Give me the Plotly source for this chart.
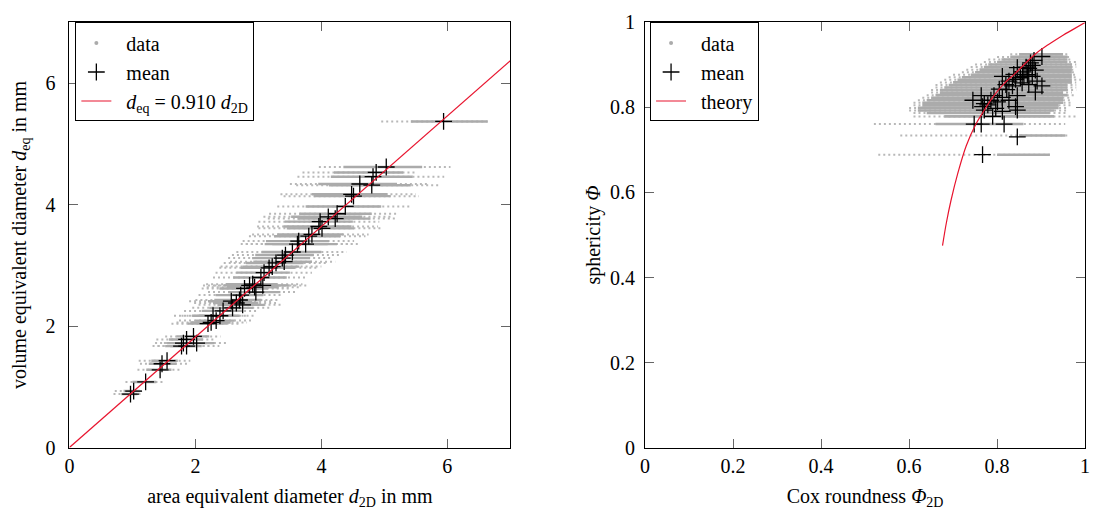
import plotly.graph_objects as go

# ---------------- left panel: d_eq vs d_2D ----------------
L_mean_x = [0.97, 1.02, 1.21, 1.44, 1.47, 1.55, 1.78, 1.86, 1.81, 2.02, 1.86, 1.97,
            2.20, 2.25, 2.33, 2.39, 2.28, 2.44, 2.59, 2.57, 2.75, 2.65, 2.70, 2.72,
            2.96, 2.78, 2.94, 2.86, 3.07, 2.91, 3.04, 3.09, 3.17, 3.22, 3.28, 3.41,
            3.38, 3.43, 3.54, 3.62, 3.75, 3.64, 3.80, 3.85, 4.01, 3.96, 3.98, 4.22,
            4.11, 4.25, 4.38, 4.51, 4.48, 4.80, 4.61, 4.82, 4.87, 5.03, 5.94]
L_mean_y = [0.88, 0.93, 1.08, 1.28, 1.38, 1.43, 1.67, 1.67, 1.72, 1.72, 1.78, 1.83,
            2.04, 2.06, 2.09, 2.17, 2.17, 2.25, 2.30, 2.41, 2.35, 2.38, 2.43, 2.51,
            2.56, 2.62, 2.64, 2.67, 2.67, 2.69, 2.80, 2.88, 2.96, 2.98, 3.04, 3.06,
            3.12, 3.17, 3.22, 3.35, 3.35, 3.40, 3.48, 3.51, 3.61, 3.64, 3.72, 3.77,
            3.80, 3.85, 3.97, 4.14, 4.17, 4.32, 4.34, 4.46, 4.53, 4.62, 5.37]
L_lo = [0.70, 0.72, 0.89, 1.08, 1.12, 1.10, 1.32, 1.40, 1.36, 1.50, 1.38, 1.52,
        1.62, 1.70, 1.74, 1.78, 1.66, 1.82, 1.95, 1.90, 2.05, 1.98, 2.00, 2.05,
        2.20, 2.10, 2.18, 2.12, 2.30, 2.17, 2.28, 2.32, 2.38, 2.40, 2.45, 2.55,
        2.52, 2.58, 2.65, 2.72, 2.80, 2.75, 2.85, 2.90, 3.00, 2.98, 3.00, 3.15,
        3.08, 3.17, 3.30, 3.40, 3.35, 3.60, 3.50, 3.62, 3.70, 3.96, 4.95]
L_hi = [1.16, 1.18, 1.52, 1.78, 1.90, 1.92, 2.20, 2.38, 2.28, 2.52, 2.30, 2.40,
        2.70, 2.82, 2.90, 2.96, 2.80, 3.00, 3.20, 3.22, 3.40, 3.28, 3.35, 3.38,
        3.62, 3.50, 3.66, 3.58, 3.80, 3.70, 3.75, 3.85, 3.92, 4.00, 4.10, 4.22,
        4.15, 4.28, 4.40, 4.48, 4.62, 4.52, 4.70, 4.75, 4.95, 4.90, 4.92, 5.20,
        5.10, 5.19, 5.40, 5.55, 5.50, 5.90, 5.71, 5.95, 5.50, 6.05, 6.64]
L_core_lo = [0.82, 0.86, 1.00, 1.22, 1.26, 1.30, 1.52, 1.60, 1.55, 1.72, 1.58, 1.70,
             1.88, 1.92, 2.00, 2.05, 1.95, 2.10, 2.22, 2.20, 2.35, 2.28, 2.30, 2.32,
             2.52, 2.38, 2.50, 2.45, 2.62, 2.48, 2.60, 2.65, 2.72, 2.75, 2.80, 2.92,
             2.90, 2.95, 3.05, 3.10, 3.22, 3.12, 3.25, 3.30, 3.45, 3.40, 3.42, 3.62,
             3.52, 3.65, 3.75, 3.88, 3.85, 4.12, 3.95, 4.15, 4.20, 4.35, 5.42]
L_core_hi = [1.08, 1.12, 1.38, 1.62, 1.70, 1.72, 2.02, 2.10, 2.05, 2.30, 2.12, 2.22,
             2.50, 2.56, 2.62, 2.70, 2.60, 2.76, 2.92, 2.90, 3.10, 3.00, 3.05, 3.08,
             3.35, 3.15, 3.32, 3.25, 3.48, 3.30, 3.45, 3.50, 3.58, 3.65, 3.72, 3.85,
             3.82, 3.88, 4.00, 4.10, 4.25, 4.12, 4.30, 4.35, 4.52, 4.48, 4.50, 4.78,
             4.65, 4.80, 4.95, 5.10, 5.05, 5.42, 5.20, 5.45, 5.30, 5.60, 6.64]
fit_x = [0.0, 7.0]
fit_y = [0.0, 6.37]

# ---------------- right panel: sphericity vs Cox roundness ----------------
R_mean_x = [0.902, 0.884, 0.880, 0.872, 0.887, 0.869, 0.880, 0.861, 0.846, 0.902,
            0.887, 0.891, 0.872, 0.857, 0.842, 0.827, 0.820, 0.812, 0.835, 0.846,
            0.805, 0.793, 0.812, 0.786, 0.801, 0.827, 0.764, 0.771, 0.745, 0.779,
            0.767, 0.771, 0.797, 0.812, 0.842, 0.846, 0.790, 0.748, 0.764, 0.816,
            0.846, 0.767, 0.876, 0.866, 0.858, 0.838, 0.822, 0.853]
R_mean_y = [0.920, 0.911, 0.899, 0.892, 0.888, 0.877, 0.873, 0.873, 0.894, 0.851,
            0.836, 0.862, 0.854, 0.858, 0.866, 0.862, 0.854, 0.873, 0.851, 0.828,
            0.843, 0.828, 0.824, 0.817, 0.813, 0.817, 0.828, 0.809, 0.817, 0.806,
            0.802, 0.794, 0.798, 0.791, 0.802, 0.794, 0.779, 0.761, 0.761, 0.761,
            0.731, 0.689, 0.905, 0.895, 0.884, 0.878, 0.842, 0.870]
R_row_y = [0.925, 0.919, 0.913, 0.907, 0.901, 0.895, 0.889, 0.883, 0.877, 0.871,
           0.865, 0.859, 0.853, 0.847, 0.841, 0.835, 0.829, 0.823, 0.817, 0.811,
           0.805, 0.799, 0.793, 0.787, 0.779, 0.761, 0.734, 0.689]
R_row_lo = [0.83, 0.80, 0.78, 0.77, 0.75, 0.74, 0.73, 0.72, 0.70, 0.69,
            0.68, 0.67, 0.66, 0.66, 0.65, 0.65, 0.64, 0.63, 0.62, 0.61,
            0.61, 0.60, 0.60, 0.61, 0.61, 0.52, 0.58, 0.53]
R_row_hi = [0.96, 0.97, 0.97, 0.98, 0.98, 0.98, 0.98, 0.98, 0.98, 0.98,
            0.99, 0.98, 0.98, 0.98, 0.98, 0.97, 0.98, 0.97, 0.97, 0.97,
            0.97, 0.96, 0.96, 0.96, 0.98, 0.955, 0.96, 0.92]
R_core_lo = [0.85, 0.83, 0.81, 0.80, 0.78, 0.77, 0.76, 0.75, 0.74, 0.72,
             0.71, 0.70, 0.69, 0.68, 0.67, 0.67, 0.66, 0.65, 0.64, 0.63,
             0.63, 0.62, 0.62, 0.64, 0.68, 0.66, 0.85, 0.80]
R_core_hi = [0.95, 0.96, 0.96, 0.96, 0.97, 0.97, 0.97, 0.97, 0.97, 0.97,
             0.97, 0.97, 0.96, 0.96, 0.96, 0.95, 0.96, 0.95, 0.95, 0.95,
             0.94, 0.94, 0.93, 0.92, 0.93, 0.86, 0.955, 0.92]
theory_x = [0.676, 0.685, 0.695, 0.711, 0.730, 0.752, 0.767, 0.790, 0.815, 0.842,
            0.887, 0.917, 0.950, 0.970, 1.000]
theory_y = [0.475, 0.530, 0.580, 0.646, 0.710, 0.761, 0.787, 0.824, 0.855, 0.881,
            0.926, 0.948, 0.970, 0.982, 1.000]

GRAY = "#ababab"
RED = "#e8142e"
FONT = "Liberation Serif, Times New Roman, Times, serif"
FS = 20
PAD = "\u00a0\u00a0"


def segments(ys, lo, hi):
    xs, yy = [], []
    for y, a, b in zip(ys, lo, hi):
        xs += [a, b, None]
        yy += [y, y, None]
    return xs, yy


fig = go.Figure()

# left panel
tx, ty = segments(L_mean_y, L_lo, L_hi)
fig.add_trace(go.Scatter(x=tx, y=ty, mode="lines", showlegend=False, hoverinfo="skip",
                         line=dict(color="#b8b8b8", width=2, dash="2px,3px"), xaxis="x", yaxis="y"))
cx, cy = segments(L_mean_y, L_core_lo, L_core_hi)
fig.add_trace(go.Scatter(x=cx, y=cy, mode="lines", showlegend=False, hoverinfo="skip",
                         line=dict(color=GRAY, width=2.4), xaxis="x", yaxis="y"))
fig.add_trace(go.Scatter(x=[None], y=[None], mode="markers", name=PAD + "data", legend="legend",
                         marker=dict(color=GRAY, size=4), xaxis="x", yaxis="y"))
fig.add_trace(go.Scatter(x=L_mean_x, y=L_mean_y, mode="markers", name=PAD + "mean", legend="legend",
                         marker=dict(symbol="cross-thin", size=12, color="black",
                                     line=dict(width=1.3, color="black")), xaxis="x", yaxis="y"))
fig.add_trace(go.Scatter(x=fit_x, y=fit_y, mode="lines", legend="legend",
                         name=PAD + "<i>d</i><sub>eq</sub> = 0.910 <i>d</i><sub>2D</sub>",
                         line=dict(color=RED, width=1.2), xaxis="x", yaxis="y"))

# right panel
tx, ty = segments(R_row_y, R_row_lo, R_row_hi)
fig.add_trace(go.Scatter(x=tx, y=ty, mode="lines", showlegend=False, hoverinfo="skip",
                         line=dict(color="#b8b8b8", width=2, dash="2px,3px"), xaxis="x2", yaxis="y2"))
cx, cy = segments(R_row_y, R_core_lo, R_core_hi)
fig.add_trace(go.Scatter(x=cx, y=cy, mode="lines", showlegend=False, hoverinfo="skip",
                         line=dict(color=GRAY, width=2.6), xaxis="x2", yaxis="y2"))
fig.add_trace(go.Scatter(x=[None], y=[None], mode="markers", name=PAD + "data", legend="legend2",
                         marker=dict(color=GRAY, size=4), xaxis="x2", yaxis="y2"))
fig.add_trace(go.Scatter(x=R_mean_x, y=R_mean_y, mode="markers", name=PAD + "mean", legend="legend2",
                         marker=dict(symbol="cross-thin", size=12, color="black",
                                     line=dict(width=1.3, color="black")), xaxis="x2", yaxis="y2"))
fig.add_trace(go.Scatter(x=theory_x, y=theory_y, mode="lines", name=PAD + "theory", legend="legend2",
                         line=dict(color=RED, width=1.2, shape="spline"), xaxis="x2", yaxis="y2"))

W, H = 1096, 515
tfont = dict(family=FONT, size=FS, color="black")
axis_common = dict(showline=True, linecolor="black", linewidth=1, mirror="ticks",
                   ticks="inside", ticklen=9, tickcolor="#666", tickwidth=1,
                   showgrid=False, zeroline=False, tickfont=tfont)

ydom = [1 - 456 / H, 1 - 12 / H]
fig.update_layout(
    width=W, height=H, autosize=False,
    margin=dict(l=0, r=0, t=0, b=0),
    paper_bgcolor="white", plot_bgcolor="white",
    font=tfont,
    xaxis=dict(axis_common, domain=[65 / W, 510 / W], range=[0, 7],
               tickvals=[0, 2, 4, 6], ticktext=["0", "2", "4", "6"],
               title=dict(text="area equivalent diameter <i>d</i><sub>2D</sub> in mm",
                          standoff=13, font=tfont),
               anchor="y"),
    yaxis=dict(axis_common, domain=ydom, range=[0, 7],
               tickvals=[0, 2, 4, 6], ticktext=["0", "2", "4", "6"], ticklabelstandoff=9,
               title=dict(text="volume equivalent diameter <i>d</i><sub>eq</sub> in mm",
                          standoff=13, font=tfont),
               anchor="x"),
    xaxis2=dict(axis_common, domain=[646 / W, 1090 / W], range=[0, 1],
                tickvals=[0, 0.2, 0.4, 0.6, 0.8, 1], ticktext=["0", "0.2", "0.4", "0.6", "0.8", "1"],
                title=dict(text="Cox roundness <i>Φ</i><sub>2D</sub>", standoff=13, font=tfont),
                anchor="y2"),
    yaxis2=dict(axis_common, domain=ydom, range=[0, 1],
                tickvals=[0, 0.2, 0.4, 0.6, 0.8, 1], ticktext=["0", "0.2", "0.4", "0.6", "0.8", "1"],
                ticklabelstandoff=5,
                title=dict(text="sphericity <i>Φ</i>", standoff=4, font=tfont),
                anchor="x2"),
    legend=dict(x=71 / W, y=1 - 12 / H, xanchor="left", yanchor="top",
                bgcolor="white", bordercolor="black", borderwidth=1,
                font=tfont, tracegroupgap=0),
    legend2=dict(x=651 / W, y=1 - 12 / H, xanchor="left", yanchor="top",
                 bgcolor="white", bordercolor="black", borderwidth=1,
                 font=tfont, tracegroupgap=0),
)

fig.write_html("out.html")
